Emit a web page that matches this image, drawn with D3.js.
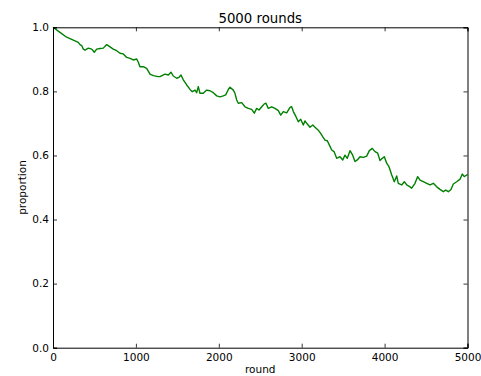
<!DOCTYPE html>
<html>
<head>
<meta charset="utf-8">
<script src="https://cdn.jsdelivr.net/npm/d3@7"></script>
<style>
  html, body { margin: 0; padding: 0; background: #fff; }
  svg { display: block; }
  text { font-family: "DejaVu Sans", sans-serif; fill: #000; }
</style>
</head>
<body>
<svg id="chart" width="481" height="376"></svg>
<script>
// ---- data ----
const rounds = [0,84,165,245,305,326,346,366,386,426,467,498,527,567,607,648,688,727,768,808,848,889,929,969,1010,1029,1049,1089,1130,1170,1210,1270,1291,1351,1391,1423,1451,1492,1520,1544,1572,1613,1653,1680,1713,1733,1753,1773,1813,1854,1894,1934,1975,2015,2054,2083,2115,2135,2175,2195,2216,2235,2276,2316,2356,2397,2428,2457,2485,2518,2549,2569,2597,2638,2678,2718,2747,2778,2819,2859,2879,2899,2931,2959,2988,3019,3040,3068,3100,3133,3161,3200,3229,3253,3281,3309,3333,3362,3390,3422,3462,3495,3522,3550,3583,3615,3643,3671,3703,3743,3784,3816,3852,3884,3917,3945,3972,3997,4025,4053,4086,4117,4146,4165,4206,4238,4267,4307,4327,4367,4399,4427,4467,4508,4548,4588,4629,4668,4708,4737,4769,4801,4829,4870,4910,4937,4961,4990,5000];
const proportion = [1.0,0.984,0.969,0.960,0.953,0.946,0.943,0.932,0.929,0.935,0.932,0.922,0.932,0.934,0.935,0.946,0.939,0.932,0.927,0.919,0.917,0.906,0.903,0.898,0.901,0.891,0.877,0.877,0.872,0.854,0.849,0.846,0.846,0.854,0.851,0.860,0.848,0.841,0.844,0.851,0.836,0.820,0.806,0.799,0.804,0.796,0.815,0.794,0.794,0.804,0.802,0.796,0.786,0.783,0.786,0.789,0.806,0.813,0.804,0.794,0.773,0.763,0.765,0.752,0.747,0.744,0.732,0.747,0.742,0.752,0.761,0.763,0.747,0.752,0.747,0.740,0.726,0.737,0.733,0.750,0.752,0.737,0.721,0.705,0.713,0.695,0.708,0.698,0.688,0.695,0.688,0.679,0.669,0.659,0.648,0.646,0.633,0.617,0.612,0.591,0.596,0.586,0.601,0.591,0.615,0.601,0.581,0.586,0.596,0.594,0.598,0.615,0.622,0.612,0.607,0.584,0.591,0.596,0.576,0.565,0.539,0.518,0.536,0.513,0.508,0.518,0.508,0.502,0.498,0.513,0.534,0.523,0.518,0.513,0.508,0.513,0.502,0.494,0.487,0.492,0.487,0.494,0.511,0.518,0.526,0.542,0.534,0.539,0.540];
const xTicks = [0,1000,2000,3000,4000,5000];
const yTicks = [0.0,0.2,0.4,0.6,0.8,1.0];
const titleText = "5000 rounds";
const xLabel = "round";
const yLabel = "proportion";

// ---- layout ----
const svg = d3.select("#chart");
const mLeft = 53, mRight = 467.5, mTop = 27.3, mBottom = 347.7;
const x = d3.scaleLinear().domain([0, 5000]).range([mLeft, mRight]);
const y = d3.scaleLinear().domain([0, 1]).range([mBottom, mTop]);
const tickLen = 4;

// line
const pts = rounds.map((r, i) => [r, proportion[i]]);
svg.append("path")
  .datum(pts)
  .attr("fill", "none")
  .attr("stroke", "#008000")
  .attr("stroke-width", 1.4)
  .attr("stroke-linejoin", "round")
  .attr("d", d3.line().x(d => x(d[0])).y(d => y(d[1])));

// axes (ticks inside, all four sides)
const fmtY = d3.format(".1f");
const bAx = svg.append("g").attr("transform", `translate(0,${mBottom})`)
  .call(d3.axisBottom(x).tickValues(xTicks).tickSize(-tickLen).tickPadding(6).tickFormat(d3.format("d")));
const tAx = svg.append("g").attr("transform", `translate(0,${mTop})`)
  .call(d3.axisTop(x).tickValues(xTicks).tickSize(-tickLen).tickFormat(""));
const lAx = svg.append("g").attr("transform", `translate(${mLeft},0)`)
  .call(d3.axisLeft(y).tickValues(yTicks).tickSize(-tickLen).tickPadding(4).tickFormat(fmtY));
const rAx = svg.append("g").attr("transform", `translate(${mRight},0)`)
  .call(d3.axisRight(y).tickValues(yTicks).tickSize(-tickLen).tickFormat(""));

[bAx, tAx, lAx, rAx].forEach(g => {
  g.select(".domain").attr("stroke", "#000").attr("stroke-width", 1);
  g.selectAll(".tick line").attr("stroke", "#000").attr("stroke-width", 0.8);
  g.selectAll("text").attr("font-family", "DejaVu Sans").attr("font-size", 10.5).attr("fill", "#000");
});

// title and labels
svg.append("text").attr("x", (mLeft + mRight) / 2).attr("y", 23)
  .attr("text-anchor", "middle").attr("font-size", 13.3).text(titleText);
svg.append("text").attr("x", (mLeft + mRight) / 2).attr("y", 373)
  .attr("text-anchor", "middle").attr("font-size", 10.5).text(xLabel);
svg.append("text").attr("transform", `translate(25.5,${(mTop + mBottom) / 2}) rotate(-90)`)
  .attr("text-anchor", "middle").attr("font-size", 10.5).text(yLabel);
</script>
</body>
</html>
